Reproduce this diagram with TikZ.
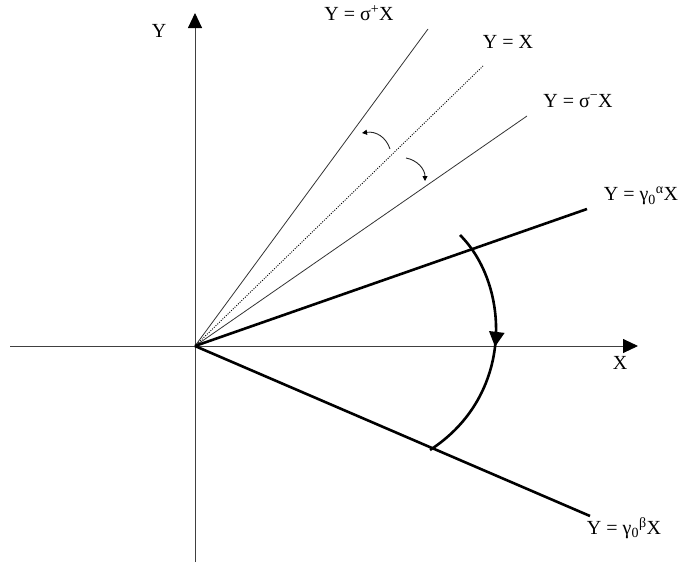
\documentclass[tikz,border=0pt]{standalone}
\usepackage{fontspec}
\setmainfont{Liberation Serif}
\usetikzlibrary{arrows.meta,decorations.markings}
\begin{document}
\begin{tikzpicture}[x=1pt,y=-1pt,
  lbl/.style={font=\fontsize{20}{23}\selectfont, inner sep=0pt},
  thinline/.style={line width=0.8pt, draw=black!80},
  thickline/.style={line width=2.6pt, draw=black},
  axis/.style={line width=0.9pt, draw=black!75, -{Triangle[length=15pt,width=14pt,black]}},
  smallarrow/.style={line width=0.9pt, draw=black!85, -{Triangle[length=5pt,width=5pt,black]}}
]
\useasboundingbox (0,0) rectangle (687,565);
\coordinate (O) at (195,346);
\coordinate (xl) at (10,346);
\coordinate (xr) at (638,346);
\coordinate (yb) at (195,562);
\coordinate (yt) at (195,13);
\coordinate (sp) at (428,29);
\coordinate (id) at (483,66);
\coordinate (sm) at (527,116);
\coordinate (ga) at (587,209);
\coordinate (gb) at (590,516);
% axes
\draw[axis] (xl) -- (xr);
\draw[axis] (yb) -- (yt);
% lines
\draw[thinline] (O) -- (sp);
\draw[line width=0.9pt, draw=black, dash pattern=on 1pt off 1.4pt] (O) -- (id);
\draw[thinline] (O) -- (sm);
\draw[thickline] (O) -- (ga);
\draw[thickline] (O) -- (gb);
% labels
\node[lbl] (lsp) at (359,13) {Y = σ\textsuperscript{+}X};
\node[lbl] (lid) at (508,42) {Y = X};
\node[lbl] (lsm) at (578,101) {Y = σ\textsuperscript{−}X};
\node[lbl] (lga) at (641,196) {Y = γ\textsubscript{0}\textsuperscript{α}X};
\node[lbl] (lgb) at (624,528) {Y = γ\textsubscript{0}\textsuperscript{β}X};
\node[lbl] (ly) at (159,31) {Y};
\node[lbl] (lx) at (620,363) {X};
% small rotation arrows
\coordinate (a1s) at (390,149);
\coordinate (a1e) at (362,133);
\coordinate (a2s) at (406,158);
\coordinate (a2e) at (425,181);
\draw[smallarrow] (a1s) .. controls (386,137) and (376,131) .. (a1e);
\draw[smallarrow] (a2s) .. controls (417,160) and (425,169) .. (a2e);
% big arc
\coordinate (bs) at (460,235);
\coordinate (be) at (430,450);
\draw[thickline, postaction={decorate}, decoration={markings,
  mark=at position 0.49 with {\arrow{Triangle[length=15pt,width=15pt]}}}]
  (bs) .. controls (510,285) and (515,395) .. (be);
\end{tikzpicture}
\end{document}
